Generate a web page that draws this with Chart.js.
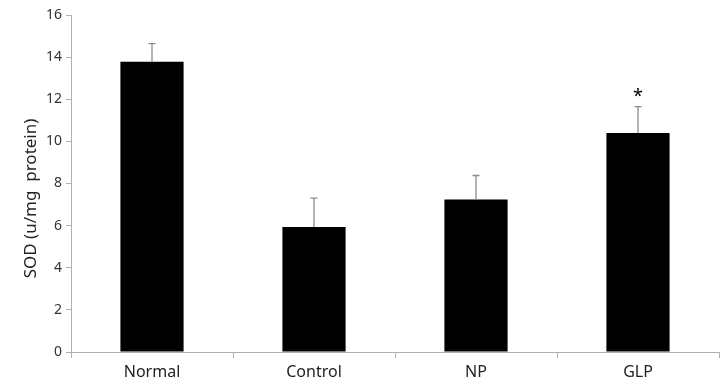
<!DOCTYPE html>
<html>
<head>
<meta charset="utf-8">
<script src="https://cdn.jsdelivr.net/npm/chart.js@4/dist/chart.umd.min.js"></script>
<style>
html,body{margin:0;padding:0;background:#fff;}
#wrap{width:726px;height:388px;position:relative;}
</style>
</head>
<body>
<div id="wrap"><canvas id="c"></canvas></div>
<script>
const categories = ["Normal", "Control", "NP", "GLP"];
const sodValues = [13.78, 5.94, 7.24, 10.40];
const sodErrors = [0.86, 1.37, 1.14, 1.25];
const significance = ["", "", "", "*"];
const yTicks = [0, 2, 4, 6, 8, 10, 12, 14, 16];
const yTitle = "SOD (u/mg  protein)";

const errorBarPlugin = {
  id: 'errorBars',
  afterDatasetsDraw(chart) {
    const ctx = chart.ctx;
    const meta = chart.getDatasetMeta(0);
    const y = chart.scales.y;
    ctx.save();
    meta.data.forEach((bar, i) => {
      const x = bar.x;
      const top = y.getPixelForValue(sodValues[i] + sodErrors[i]);
      const base = y.getPixelForValue(sodValues[i]);
      ctx.strokeStyle = '#8c8c8c';
      ctx.lineWidth = 1.3;
      ctx.beginPath();
      ctx.moveTo(x, base);
      ctx.lineTo(x, top);
      ctx.moveTo(x - 3.5, top);
      ctx.lineTo(x + 3.5, top);
      ctx.stroke();
      if (significance[i]) {
        ctx.fillStyle = '#000';
        ctx.font = '18px "Noto Sans"';
        ctx.textAlign = 'center';
        ctx.textBaseline = 'middle';
        ctx.fillText(significance[i], x, top - 10);
      }
    });
    ctx.restore();
  }
};

const yTitlePlugin = {
  id: 'yTitle',
  afterDraw(chart) {
    const ctx = chart.ctx;
    const a = chart.chartArea;
    ctx.save();
    ctx.translate(31, (a.top + a.bottom) / 2 + 15);
    ctx.rotate(-Math.PI / 2);
    ctx.fillStyle = '#222';
    ctx.font = '17px "Noto Sans"';
    ctx.textAlign = 'center';
    ctx.textBaseline = 'middle';
    ctx.fillText(yTitle, 0, 0);
    ctx.restore();
  }
};

new Chart(document.getElementById('c'), {
  type: 'bar',
  data: {
    labels: categories,
    datasets: [{
      data: sodValues,
      backgroundColor: '#000000',
      borderColor: '#000000',
      borderWidth: 0,
      categoryPercentage: 1,
      barPercentage: 0.39
    }]
  },
  options: {
    responsive: true,
    maintainAspectRatio: false,
    animation: false,
    devicePixelRatio: 1,
    layout: { padding: { left: 0, right: 7, top: 15, bottom: 0 } },
    plugins: { legend: { display: false }, tooltip: { enabled: false } },
    scales: {
      x: {
        grid: { display: true, drawOnChartArea: false, drawTicks: true, tickLength: 6, color: '#b0b0b0', offset: true },
        border: { display: true, color: '#b0b0b0', width: 1 },
        ticks: { color: '#222', font: { family: '"Noto Sans"', size: 16 }, padding: 5 },
        afterFit(s) { s.height = 36; }
      },
      y: {
        min: 0, max: 16,
        afterBuildTicks(s) { s.ticks = yTicks.map(v => ({ value: v })); },
        grid: { display: true, drawOnChartArea: false, drawTicks: true, tickLength: 5, color: '#b0b0b0' },
        border: { display: true, color: '#b0b0b0', width: 1 },
        ticks: { color: '#333', font: { family: '"Noto Sans"', size: 14 }, padding: 4 },
        afterFit(s) { s.width = 71; }
      }
    }
  },
  plugins: [errorBarPlugin, yTitlePlugin]
});
</script>
</body>
</html>
